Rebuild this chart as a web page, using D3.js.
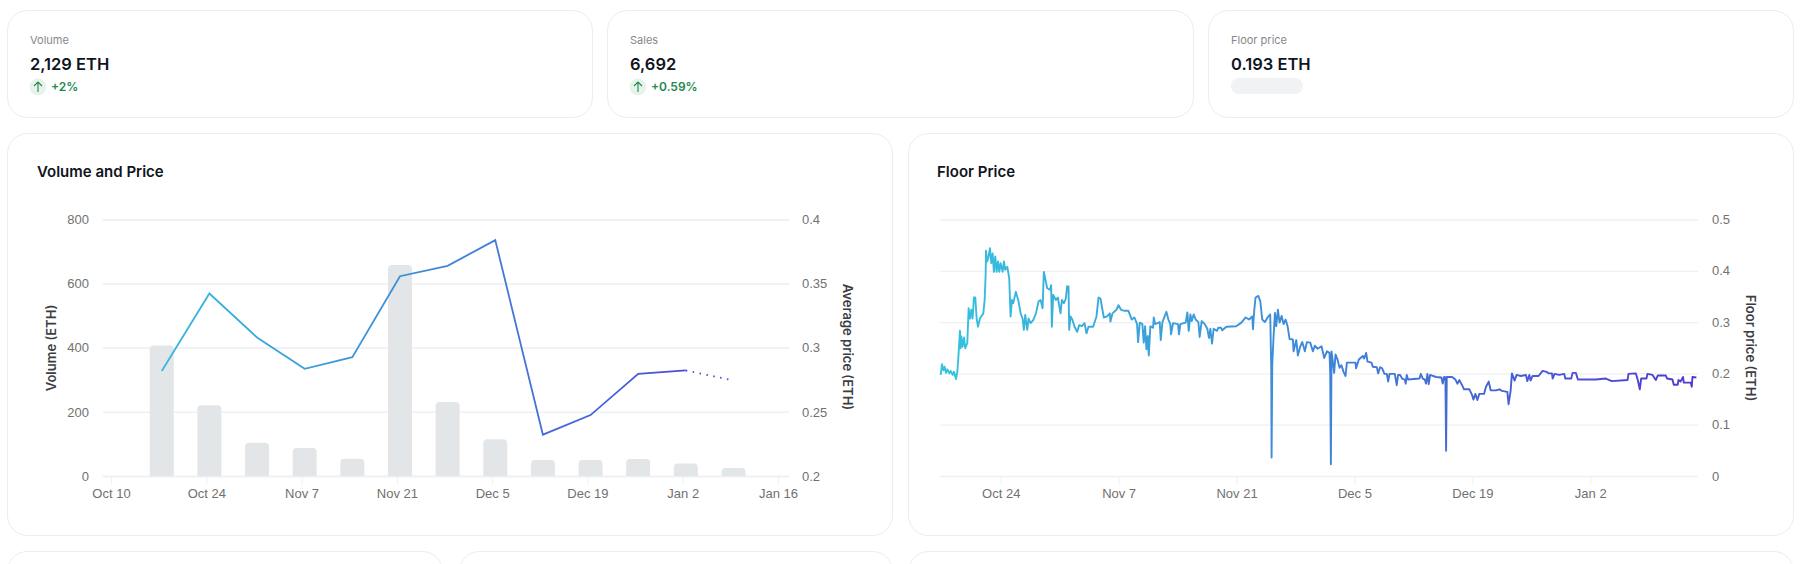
<!DOCTYPE html>
<html>
<head>
<meta charset="utf-8">
<title>Volume and Price</title>
<script src="https://cdnjs.cloudflare.com/ajax/libs/d3/7.8.5/d3.min.js"></script>
<style>
  html, body { margin: 0; padding: 0; background: #fff; overflow: hidden; }
  svg { display: block; font-family: Inter, "Noto Sans", sans-serif; }
  .tick text { font-size: 13px; fill: #717171; }
  .axis-title { font-size: 13px; font-weight: 600; fill: #3a3d44; text-anchor: middle; }
  .domain { display: none; }
</style>
</head>
<body>
<script>
// stat cards
var statLabels = ["Volume", "Sales", "Floor price"];
var statValues = ["2,129 ETH", "6,692", "0.193 ETH"];
var statChanges = ["+2%", "+0.59%", null];

// weekly volume and average price
var weekDates = ["2022-10-17", "2022-10-24", "2022-10-31", "2022-11-07", "2022-11-14", "2022-11-21", "2022-11-28",
                 "2022-12-05", "2022-12-12", "2022-12-19", "2022-12-26", "2023-01-02", "2023-01-09"];
var weekVolume = [407, 221, 104, 87, 54, 658, 231, 115, 50, 50, 53, 39, 25];
var weekPrice = [0.2818, 0.3423, 0.308, 0.2836, 0.2927, 0.3558, 0.3639, 0.3839, 0.2322, 0.2475, 0.2797, 0.2823, 0.2745];
var volumeTicks = [0, 200, 400, 600, 800];
var priceTicks = [0.2, 0.25, 0.3, 0.35, 0.4];
var volumeDateTicks = ["2022-10-10", "2022-10-24", "2022-11-07", "2022-11-21", "2022-12-05", "2022-12-19", "2023-01-02", "2023-01-16"];

// floor price, days counted from the left edge of the chart
var floorStart = "2022-10-16T19:00";
var floorDays = [0.08,0.24,0.40,0.55,0.71,0.87,1.11,1.26,1.50,1.66,1.90,2.06,2.21,2.37,2.45,2.53,2.69,2.85,3.00,3.24,3.40,3.56,3.72,3.87,4.03,4.19,4.35,4.51,4.74,5.14,5.30,5.42,5.46,5.61,5.77,5.93,6.09,6.25,6.40,6.56,6.72,6.88,7.04,7.19,7.43,7.59,7.75,7.99,8.22,8.38,8.54,8.70,9.01,9.33,9.57,9.80,9.96,10.12,10.36,10.52,10.75,11.07,11.39,11.70,11.94,12.18,12.33,12.57,12.73,13.05,13.20,13.28,13.44,13.76,13.99,14.31,14.47,14.71,14.94,15.10,15.26,15.34,15.50,15.73,15.97,16.29,16.52,16.84,17.16,17.39,17.63,18.18,18.58,18.82,19.05,19.45,19.84,20.16,20.24,20.48,20.95,21.19,21.50,
  21.90,22.37,22.77,23.09,23.40,23.52,23.72,24.03,24.19,24.35,24.51,24.67,24.79,24.98,25.30,25.38,25.54,26.09,26.21,26.41,26.88,27.12,27.35,27.43,27.67,28.26,28.38,28.54,29.17,29.37,29.53,29.73,29.89,30.12,30.36,30.68,30.83,31.07,31.43,31.74,31.94,32.10,32.30,32.49,32.89,33.05,33.36,33.52,34.00,35.18,35.78,36.29,36.69,37.08,37.16,37.32,37.47,37.79,38.03,38.26,38.58,38.90,39.21,39.33,39.37,39.45,39.61,39.77,39.92,40.12,40.32,40.56,40.80,41.03,41.27,41.51,41.90,41.98,42.30,42.49,42.77,43.01,43.32,43.56,43.96,44.27,44.51,44.83,45.30,45.62,45.94,46.25,46.33,46.41,46.49,46.80,46.96,47.20,47.44,
  47.67,47.91,48.15,48.31,49.33,49.41,49.73,50.20,50.36,50.60,50.76,51.23,51.39,51.87,52.02,52.26,52.50,52.77,53.05,53.21,53.37,54.00,54.23,54.39,54.63,54.87,55.18,55.30,55.42,55.58,56.93,57.08,57.32,57.56,57.71,57.87,58.03,58.19,58.90,59.53,59.69,59.85,60.01,60.09,60.17,60.80,61.20,61.43,61.67,61.99,62.22,62.85,63.17,63.33,63.57,63.80,64.04,64.59,64.83,65.15,65.38,66.01,66.41,66.72,67.36,67.51,67.75,67.91,68.22,68.46,68.97,69.57,69.73,69.97,70.12,70.36,71.07,
  71.55,72.02,72.26,72.66,72.74,72.97,73.53,74.12,74.24,74.95,75.11,75.50,75.74,76.69,77.87,79.06,79.77,81.63,81.75,82.62,82.85,83.09,83.25,83.88,84.00,84.60,84.99,85.23,86.17,86.33,86.97,87.12,87.60,87.68,87.92,88.23,88.31,89.14,89.26,89.34,89.81];
var floorPrices = [.197,.218,.206,.213,.201,.208,.200,.205,.197,.203,.189,.203,.239,.283,.249,.272,.252,.270,.249,.259,.327,.307,.324,.307,.348,.348,.307,.291,.307,.317,.343,.392,.439,.418,.428,.444,.415,.434,.398,.428,.398,.418,.398,.415,.398,.418,.402,.408,.385,.311,.343,.337,.359,.340,.317,.307,.285,.314,.285,.307,.298,.304,.317,.340,.343,.327,.398,.379,.366,.363,.372,.291,.353,.343,.348,.317,.343,.337,.346,.370,.369,.285,.311,.304,.291,.281,.294,.292,.298,.278,.291,.291,.311,.348,.346,.309,.311,.317,.301,.317,.324,.333,.324,
  .322,.322,.305,.309,.296,.261,.299,.296,.260,.292,.247,.273,.235,.292,.289,.309,.296,.300,.265,.300,.320,.305,.296,.276,.298,.296,.276,.296,.299,.319,.283,.315,.302,.315,.305,.300,.271,.302,.296,.287,.269,.287,.258,.287,.283,.289,.289,.284,.291,.292,.299,.309,.305,.311,.286,.325,.348,.351,.341,.305,.300,.309,.315,.207,.036,.217,.273,.318,.292,.324,.299,.312,.296,.305,.292,.267,.266,.243,.265,.235,.252,.261,.243,.261,.260,.243,.254,.248,.253,.230,.243,.240,.201,.023,.243,.201,.237,.227,.211,
  .216,.203,.195,.221,.221,.210,.227,.234,.229,.240,.223,.221,.213,.212,.200,.212,.210,.199,.199,.184,.199,.199,.177,.197,.197,.190,.188,.180,.197,.188,.190,.199,.190,.188,.180,.199,.179,.197,.193,.192,.180,.193,.192,.049,.193,.193,.188,.180,.187,.177,.169,.169,.158,.149,.160,.148,.160,.160,.174,.184,.167,.167,.169,.166,.164,.140,.166,.200,.186,.197,.195,.197,.185,.197,.186,.195,.195,
  .205,.203,.200,.200,.190,.199,.197,.199,.190,.190,.201,.201,.188,.188,.188,.190,.185,.187,.199,.200,.187,.169,.190,.190,.199,.197,.187,.196,.196,.190,.188,.178,.178,.187,.184,.193,.182,.182,.174,.193,.192];
var floorTicks = [0, 0.1, 0.2, 0.3, 0.4, 0.5];
var floorDateTicks = ["2022-10-24", "2022-11-07", "2022-11-21", "2022-12-05", "2022-12-19", "2023-01-02"];

var parseDate = function (s) { return new Date(s.length > 10 ? s : s + "T00:00"); };
var fmtDate = d3.timeFormat("%b %-d");
var lineStart = "#36c3de", lineMid = "#3f86d8", lineEnd = "#5038d2";
var border = "#ebecee", gridColor = "#eff0f2";

var svg = d3.select("body").append("svg").attr("width", 1814).attr("height", 564);

function card(x, y, w, h) {
  svg.append("rect").attr("x", x + 0.5).attr("y", y + 0.5).attr("width", w).attr("height", h)
    .attr("rx", 20).attr("fill", "#fff").attr("stroke", border);
}

// top row
var statX = [7, 607, 1208];
statX.forEach(function (x, i) {
  card(x, 10, i == 1 ? 586 : 585, 107);
  svg.append("text").attr("x", x + 23).attr("y", 44).attr("font-size", 11).attr("fill", "#85878c").text(statLabels[i]);
  svg.append("text").attr("x", x + 23).attr("y", 70).attr("font-size", 16.5).attr("font-weight", 600).attr("fill", "#10141c").text(statValues[i]);
  if (statChanges[i]) {
    svg.append("circle").attr("cx", x + 31).attr("cy", 87).attr("r", 8.5).attr("fill", "#e6f4ec");
    svg.append("path").attr("transform", "translate(" + (x + 31) + ",87)")
      .attr("d", "M0,5V-5M-4,-1L0,-5L4,-1").attr("fill", "none").attr("stroke", "#22894e").attr("stroke-width", 1.1);
    svg.append("text").attr("x", x + 44).attr("y", 91).attr("font-size", 12).attr("font-weight", 600).attr("fill", "#22894e").text(statChanges[i]);
  } else {
    svg.append("rect").attr("x", x + 23).attr("y", 78).attr("width", 72).attr("height", 16).attr("rx", 8).attr("fill", "#f1f2f4");
  }
});

// chart panels and the row below, cut off by the window
card(7, 133, 885, 402);
card(908, 133, 885, 402);
card(7, 551, 435, 100);
card(459, 551, 433, 100);
card(908, 551, 885, 100);

svg.append("text").attr("x", 37).attr("y", 177).attr("font-size", 15).attr("font-weight", 600).attr("fill", "#10141c").text("Volume and Price");
svg.append("text").attr("x", 937).attr("y", 177).attr("font-size", 15).attr("font-weight", 600).attr("fill", "#10141c").text("Floor Price");

function gradient(id, scale) {
  var g = svg.append("linearGradient").attr("id", id).attr("gradientUnits", "userSpaceOnUse")
    .attr("x1", scale.range()[0]).attr("x2", scale.range()[1]).attr("y1", 0).attr("y2", 0);
  g.append("stop").attr("offset", 0).attr("stop-color", lineStart);
  g.append("stop").attr("offset", 0.5).attr("stop-color", lineMid);
  g.append("stop").attr("offset", 1).attr("stop-color", lineEnd);
}

function xAxis(x, ticks, bottom) {
  var g = svg.append("g").attr("transform", "translate(0," + bottom + ")")
    .call(d3.axisBottom(x).tickValues(ticks.map(parseDate)).tickFormat(fmtDate).tickSize(9).tickPadding(4));
  g.selectAll("line").attr("stroke", gridColor);
}

function yAxis(scale, ticks, side, pos, gridLen, padding, fmt) {
  var axis = (side == "left" ? d3.axisLeft(scale) : d3.axisRight(scale))
    .tickValues(ticks).tickSize(-gridLen).tickPadding(padding).tickFormat(fmt);
  var g = svg.append("g").attr("transform", "translate(" + pos + ",0)").call(axis);
  g.selectAll("line").attr("stroke", gridColor).attr("stroke-width", 1.3);
}

// Volume and Price
var top1 = 219.5, bottom1 = 476;
var x1 = d3.scaleTime().domain([parseDate("2022-10-10"), parseDate("2023-01-16")]).range([111, 778]);
var yVol = d3.scaleLinear().domain([0, 800]).range([bottom1, top1]);
var yPrice = d3.scaleLinear().domain([0.2, 0.4]).range([bottom1, top1]);
gradient("grad1", x1);

yAxis(yVol, volumeTicks, "left", 103, 686, 14, d3.format("d"));
yAxis(yPrice, priceTicks, "right", 789, 686, 13, function (d) { return String(d); });
xAxis(x1, volumeDateTicks, bottom1);

// bars sit a few hours past their day, as in the picture
var weekTime = function (i) { return d3.timeHour.offset(parseDate(weekDates[i]), 11); };
var barW = 24, barR = 4;
svg.append("g").selectAll("path").data(weekVolume).join("path")
  .attr("fill", "#e3e6e8")
  .attr("d", function (d, i) {
    var l = x1(weekTime(i)) - barW / 2, t = yVol(d);
    return "M" + l + "," + bottom1 + "V" + (t + barR) + "Q" + l + "," + t + " " + (l + barR) + "," + t
      + "H" + (l + barW - barR) + "Q" + (l + barW) + "," + t + " " + (l + barW) + "," + (t + barR) + "V" + bottom1 + "Z";
  });

var priceLine = d3.line()
  .x(function (d) { return x1(weekTime(d)); })
  .y(function (d) { return yPrice(weekPrice[d]); });
var idx = d3.range(weekPrice.length);
svg.append("path").attr("d", priceLine(idx.slice(0, -1))).attr("fill", "none")
  .attr("stroke", "url(#grad1)").attr("stroke-width", 1.8);
svg.append("path").attr("d", priceLine(idx.slice(-2))).attr("fill", "none")
  .attr("stroke", "url(#grad1)").attr("stroke-width", 1.8).attr("stroke-dasharray", "1.5 5.5");

svg.append("text").attr("class", "axis-title").attr("transform", "translate(56,348) rotate(-90)").text("Volume (ETH)");
svg.append("text").attr("class", "axis-title").attr("transform", "translate(843,347) rotate(90)").text("Average price (ETH)");

// Floor Price
var start = parseDate(floorStart);
var x2 = d3.scaleTime().domain([start, d3.timeDay.offset(start, 90)]).range([940, 1698]);
var yFloor = d3.scaleLinear().domain([0, 0.5]).range([bottom1, top1]);
gradient("grad2", x2);

yAxis(yFloor, floorTicks, "right", 1698, 758, 14, function (d) { return String(d); });
xAxis(x2, floorDateTicks, bottom1);

var floorLine = d3.line()
  .x(function (d, i) { return x2(new Date(+start + floorDays[i] * 864e5)); })
  .y(function (d) { return yFloor(d); });
svg.append("path").attr("d", floorLine(floorPrices)).attr("fill", "none")
  .attr("stroke", "url(#grad2)").attr("stroke-width", 1.9).attr("stroke-linejoin", "round");

svg.append("text").attr("class", "axis-title").attr("transform", "translate(1746,348) rotate(90)").text("Floor price (ETH)");
</script>
</body>
</html>
